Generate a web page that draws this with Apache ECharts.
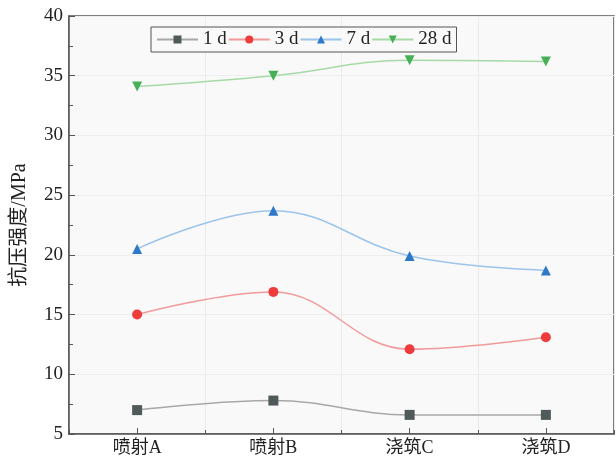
<!DOCTYPE html>
<html><head><meta charset="utf-8">
<script src="https://cdn.jsdelivr.net/npm/echarts@6/dist/echarts.min.js"></script>
<style>html,body{margin:0;padding:0;background:#fff}#c{width:616px;height:457px}</style>
</head><body><div id="c"></div>
<script>
var categories = ['喷射A', '喷射B', '浇筑C', '浇筑D'];
var seriesNames = ['1 d', '3 d', '7 d', '28 d'];
var d1 = [7.0, 7.8, 6.6, 6.6];
var d3 = [15.0, 16.9, 12.1, 13.1];
var d7 = [20.5, 23.7, 19.9, 18.7];
var d28 = [34.1, 35.0, 36.3, 36.2];
var yTicks = [5, 10, 15, 20, 25, 30, 35, 40];

var font = '"Liberation Serif","Noto Sans CJK SC",serif';
function mk(name, data, lineColor, markColor, symbol, rot) {
  return {
    name: name, type: 'line', data: data, smooth: 0.4,
    symbol: symbol, symbolSize: 10, symbolRotate: rot || 0,
    lineStyle: {color: lineColor, width: 1.5},
    itemStyle: {color: markColor},
    xAxisIndex: 0, yAxisIndex: 0
  };
}
var chart = echarts.init(document.getElementById('c'));
chart.setOption({
  animation: false,
  backgroundColor: '#ffffff',
  grid: {left: 69, right: 2, top: 16, bottom: 23, show: true, backgroundColor: '#f9f9f9', borderColor: '#555', borderWidth: 1.5},
  legend: {
    data: seriesNames, left: 151, top: 27, itemWidth: 41, itemHeight: 10, itemGap: 1,
    padding: [3, 5], borderColor: '#555', borderWidth: 1, backgroundColor: '#f9f9f9',
    textStyle: {fontFamily: font, fontSize: 19, color: '#222'}
  },
  xAxis: [{
    type: 'category', data: categories, boundaryGap: true,
    axisLine: {lineStyle: {color: '#555', width: 1.5}},
    axisTick: {show: true, inside: true, length: 4, lineStyle: {color: '#555'}},
    axisLabel: {fontFamily: font, fontSize: 18, color: '#222', margin: 5},
    splitLine: {show: true, lineStyle: {color: '#eaeaea', width: 1}}
  }, {
    type: 'category', data: categories, boundaryGap: true, position: 'bottom',
    axisLine: {show: false},
    axisTick: {show: true, inside: true, alignWithLabel: true, length: 6, lineStyle: {color: '#555'}},
    axisLabel: {show: false},
    splitLine: {show: false}
  }],
  yAxis: {
    type: 'value', min: yTicks[0], max: yTicks[yTicks.length - 1], interval: 5,
    name: '抗压强度/MPa', nameLocation: 'middle', nameGap: 39, nameRotate: 90,
    nameTextStyle: {fontFamily: font, fontSize: 20, color: '#222'},
    axisLine: {show: true, lineStyle: {color: '#555', width: 1.5}},
    axisTick: {show: true, inside: true, length: 6, lineStyle: {color: '#555'}},
    minorTick: {show: true, splitNumber: 2, length: 4, lineStyle: {color: '#555'}},
    axisLabel: {fontFamily: font, fontSize: 19, color: '#222', margin: 6},
    splitLine: {show: true, lineStyle: {color: '#eeeeee', width: 1}}
  },
  series: [
    mk(seriesNames[0], d1, '#a8a8a8', '#505a5a', 'rect'),
    mk(seriesNames[1], d3, '#f29a9a', '#ee3b3b', 'circle'),
    mk(seriesNames[2], d7, '#9cc4ea', '#2e78c8', 'triangle'),
    mk(seriesNames[3], d28, '#a6dba6', '#45b055', 'triangle', 180)
  ]
});
</script></body></html>
